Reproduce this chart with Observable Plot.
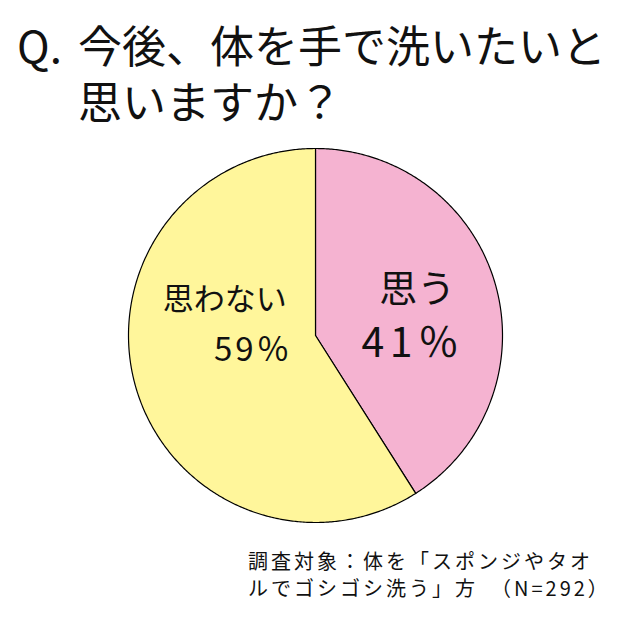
<!DOCTYPE html>
<html>
<head>
<meta charset="utf-8">
<script src="https://cdn.jsdelivr.net/npm/d3@7"></script>
<script src="https://cdn.jsdelivr.net/npm/@observablehq/plot@0.6"></script>
<style>
  body { margin: 0; background: #fff; font-family: "Noto Sans CJK JP", sans-serif; color: #111; width: 636px; }
  #title { padding: 16px 0 0 17px; height: 112px; }
  #title div { font-size: 44px; line-height: 56px; height: 56px; white-space: nowrap; }
  #title .q { display: inline-block; width: 61px; }
  #title .l2 { padding-left: 61px; }
  #caption { margin: 9px 0 0 248px; }
  #caption div { font-size: 20px; letter-spacing: 3px; line-height: 27px; height: 27px; white-space: nowrap; }
  #chart svg { display: block; }
</style>
</head>
<body>
<div id="title"><div><span class="q">Q.</span>今後、体を手で洗いたいと</div><div class="l2">思いますか？</div></div>
<div id="chart"></div>
<div id="caption"><div>調査対象：体を「スポンジやタオ</div><div>ルでゴシゴシ洗う」方　（N=292）</div></div>
<script>
// ---- data ----
const categories = ["思う", "思わない"];
const values = [41, 59];
const percentLabels = ["41％", "59％"];

// ---- styles / layout ----
const sliceColors = ["#F5B3D1", "#FFF69B"];
const labelLayout = [
  { nameSize: 38, pctSize: 41, pctSpacing: 5.5, nameDx: 3, nameDy: -17, pctDx: -4, pctDy: 37 },
  { nameSize: 31, pctSize: 33, pctSpacing: 3, nameDx: 8, nameDy: -64, pctDx: 35, pctDy: -14 }
];
const W = 636, H = 410, R = 187, CX = 315, CY = 207, LABEL_R = 0.55;

// ---- slices from d3.pie (0 at 12 o'clock, clockwise) ----
const arcs = d3.pie().sort(null).value((d, i) => values[i])(categories);
const step = Math.PI / 360;
const features = arcs.map((a, i) => {
  const pts = [[0, 0]];
  const n = Math.max(2, Math.ceil((a.endAngle - a.startAngle) / step));
  for (let k = 0; k <= n; k++) {
    const t = a.startAngle + (a.endAngle - a.startAngle) * k / n;
    pts.push([Math.sin(t), Math.cos(t)]);
  }
  pts.push([0, 0]);
  return {
    type: "Feature",
    properties: { category: categories[i], value: values[i] },
    geometry: { type: "Polygon", coordinates: [pts] }
  };
});
const labels = arcs.map((a, i) => {
  const mid = (a.startAngle + a.endAngle) / 2;
  return { category: categories[i], pct: percentLabels[i], x: LABEL_R * Math.sin(mid), y: LABEL_R * Math.cos(mid) };
});

const textMarks = labels.flatMap((d, i) => {
  const L = labelLayout[i];
  return [
    Plot.text([d], { x: "x", y: "y", text: "category", fontSize: L.nameSize, dx: L.nameDx, dy: L.nameDy, fill: "#111", fontFamily: "Noto Sans CJK JP" }),
    Plot.text([d], { x: "x", y: "y", text: "pct", fontSize: L.pctSize, dx: L.pctDx + L.pctSpacing / 2, dy: L.pctDy, fill: "#111", fontFamily: "Noto Sans CJK JP" })
  ];
});

const chart = Plot.plot({
  width: W,
  height: H,
  marginLeft: CX - R,
  marginRight: W - CX - R,
  marginTop: CY - R,
  marginBottom: H - CY - R,
  style: { fontFamily: "Noto Sans CJK JP", background: "#fff" },
  projection: { type: "reflect-y", domain: { type: "MultiPoint", coordinates: [[-1, -1], [1, 1]] } },
  color: { domain: categories, range: sliceColors },
  marks: [
    Plot.geo(features, { fill: d => d.properties.category, stroke: "#000", strokeWidth: 1.2 }),
    ...textMarks
  ]
});
// widen the percentage labels like the reference's rounded font
d3.select(chart).selectAll("text").each(function () {
  const idx = percentLabels.indexOf(this.textContent);
  if (idx >= 0) this.setAttribute("letter-spacing", labelLayout[idx].pctSpacing);
});
document.getElementById("chart").appendChild(chart);
</script>
</body>
</html>
